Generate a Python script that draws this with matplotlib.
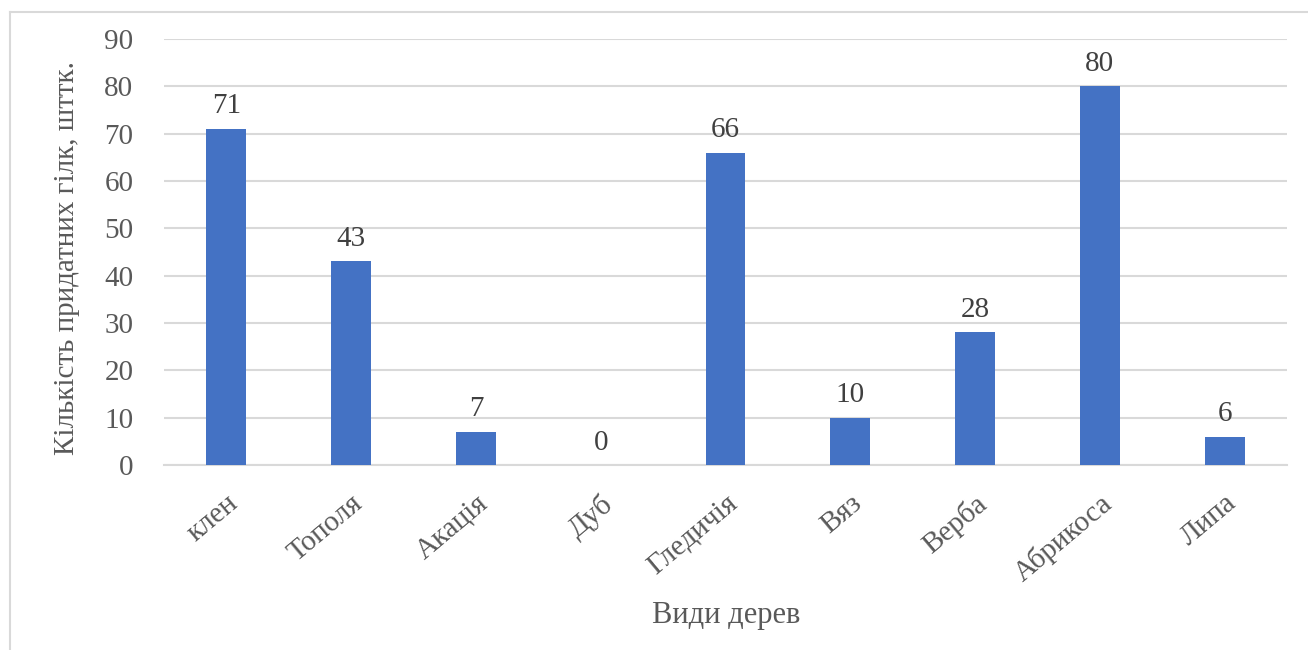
import matplotlib
matplotlib.use("Agg")
import matplotlib.pyplot as plt
from matplotlib.lines import Line2D

categories = ["клен", "Тополя", "Акація", "Дуб", "Гледичія", "Вяз", "Верба", "Абрикоса", "Липа"]
values = [71, 43, 7, 0, 66, 10, 28, 80, 6]
yticks = [0, 10, 20, 30, 40, 50, 60, 70, 80, 90]

plt.rcParams['font.family'] = ['Liberation Serif', 'DejaVu Serif']
txt = '#595959'
grid = '#d9d9d9'

fig = plt.figure(figsize=(13.08, 6.5), dpi=100)
ax = fig.add_axes([164/1308, 1-465/650, (1287-164)/1308, (465-39)/650])

x = list(range(len(categories)))
ax.bar(x, values, width=0.32, color='#4472c4', zorder=3)
for xi, v in zip(x, values):
    ax.text(xi, v + 2.0, str(v), ha='center', va='bottom', fontsize=21, color='#404040')

ax.set_xlim(-0.5, len(categories) - 0.5)
ax.set_ylim(0, 90)
ax.set_yticks(yticks)
ax.set_xticks(x)
ax.set_xticklabels(categories, rotation=40, ha='right', rotation_mode='anchor')
ax.tick_params(axis='both', length=0, labelsize=21, colors=txt)
ax.tick_params(axis='y', pad=22)
ax.tick_params(axis='x', pad=18)
ax.grid(axis='y', color=grid, linewidth=1.5, zorder=0)
for s in ['top', 'right', 'left']:
    ax.spines[s].set_visible(False)
ax.spines['bottom'].set_color(grid)
ax.spines['bottom'].set_linewidth(1.5)

fig.text(726/1308, 1-616/650, "Види дерев", ha='center', va='center', fontsize=22, color=txt)
fig.text(67/1308, 1-258/650, "Кількість придатних гілк, шттк.", ha='center', va='center',
         rotation=90, fontsize=21, color=txt)

# outer border (left and top visible)
fig.add_artist(Line2D([10/1308, 10/1308], [0, 1-12/650], transform=fig.transFigure, color=grid, linewidth=1.5))
fig.add_artist(Line2D([10/1308, 1], [1-12/650, 1-12/650], transform=fig.transFigure, color=grid, linewidth=1.5))

fig.savefig("out.png", dpi=100, facecolor='white')
